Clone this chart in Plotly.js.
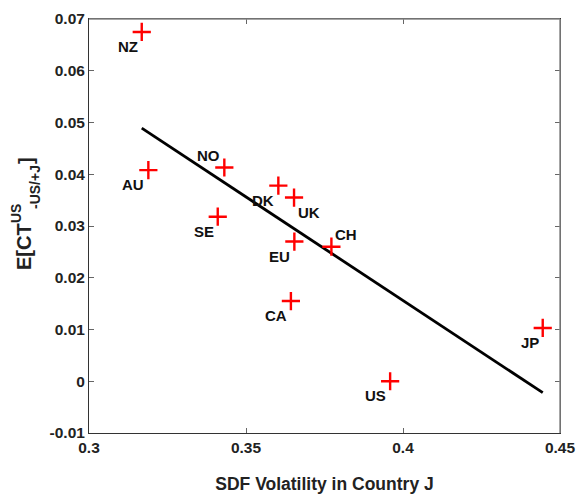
<!DOCTYPE html>
<html>
<head>
<meta charset="utf-8">
<script src="https://cdn.plot.ly/plotly-3.0.1.min.js"></script>
<style>
  html, body { margin: 0; padding: 0; background: #fff; }
  #chart { width: 577px; height: 494px; }
</style>
</head>
<body>
<div id="chart"></div>
<script>
// Country codes and their coordinates
const countries = ['NZ', 'AU', 'NO', 'SE', 'DK', 'UK', 'EU', 'CH', 'CA', 'US', 'JP'];
const sdfVolatility = [0.3168, 0.3189, 0.3431, 0.3410, 0.3603, 0.3653, 0.3654, 0.3772, 0.3643, 0.3959, 0.4445];
const ctPremium = [0.0675, 0.0408, 0.0413, 0.0318, 0.0378, 0.0355, 0.0270, 0.0260, 0.0155, 0.0000, 0.0103];
const labelPositions = ['bottom left', 'bottom left', 'top left', 'bottom left', 'bottom left',
  'bottom right', 'bottom left', 'top right', 'bottom left', 'bottom left', 'bottom left'];

// Fitted regression line endpoints
const fitX = [0.3168, 0.4445];
const fitY = [0.0489, -0.0022];

// Axis ticks
const xTicks = [0.3, 0.35, 0.4, 0.45];
const xTickText = ['0.3', '0.35', '0.4', '0.45'];
const yTicks = [-0.01, 0, 0.01, 0.02, 0.03, 0.04, 0.05, 0.06, 0.07];
const yTickText = ['-0.01', '0', '0.01', '0.02', '0.03', '0.04', '0.05', '0.06', '0.07'];

const FONT = 'Liberation Sans, Arial, sans-serif';
const INK = '#222';

const W = 577, H = 494;
const M = { l: 89, r: 17, t: 19, b: 61 };
const plotW = W - M.l - M.r, plotH = H - M.t - M.b;
const px = x => (x - M.l) / plotW;
const py = y => (H - M.b - y) / plotH;

const traces = [
  {
    x: fitX, y: fitY,
    mode: 'lines',
    line: { color: '#000', width: 2.8 },
    hoverinfo: 'skip',
    showlegend: false
  },
  {
    x: sdfVolatility, y: ctPremium,
    mode: 'markers',
    marker: { symbol: 'cross-thin', size: 13, line: { color: '#ff0000', width: 2.4 }, color: '#ff0000' },
    showlegend: false
  }
];

// Country codes sit just off one corner of their marker
const countryLabels = countries.map((c, i) => {
  const [v, h] = labelPositions[i].split(' ');
  return {
    xref: 'x', yref: 'y',
    x: sdfVolatility[i], y: ctPremium[i],
    text: c, showarrow: false,
    xanchor: h === 'left' ? 'right' : 'left',
    yanchor: v === 'bottom' ? 'top' : 'bottom',
    xshift: h === 'left' ? -2 : 2,
    yshift: v === 'bottom' ? -4 : 2,
    font: { family: FONT, size: 15, color: '#111', weight: 'bold' }
  };
});

// Pieces of the stacked y-axis title: E[CT with superscript US and subscript -US/+J
const ytitle = [
  { text: 'E[CT', cx: 24, cy: 247, size: 20 },
  { text: 'US', cx: 16, cy: 214, size: 14 },
  { text: '-US/+J', cx: 35, cy: 187, size: 14 },
  { text: ']', cx: 26, cy: 161, size: 20 }
];

const titleParts = ytitle.map(p => ({
  xref: 'paper', yref: 'paper',
  x: px(p.cx), y: py(p.cy),
  xanchor: 'center', yanchor: 'middle',
  text: p.text, textangle: -90, showarrow: false,
  font: { family: FONT, size: p.size, color: INK, weight: 'bold' }
}));

const layout = {
  width: W, height: H,
  margin: M,
  paper_bgcolor: '#fff', plot_bgcolor: '#fff',
  showlegend: false,
  xaxis: {
    range: [0.3, 0.45],
    tickvals: xTicks, ticktext: xTickText,
    ticks: 'inside', ticklen: 5, tickcolor: '#666', tickwidth: 1,
    showline: true, linecolor: '#333', linewidth: 1, mirror: 'ticks',
    showgrid: false, zeroline: false,
    tickfont: { family: FONT, size: 15.5, color: INK, weight: 'bold' },
    title: { text: 'SDF Volatility in Country J', font: { family: FONT, size: 17.5, color: INK, weight: 'bold' }, standoff: 26 }
  },
  yaxis: {
    range: [-0.01, 0.07],
    tickvals: yTicks, ticktext: yTickText,
    ticks: 'inside', ticklen: 5, tickcolor: '#666', tickwidth: 1,
    showline: true, linecolor: '#333', linewidth: 1, mirror: 'ticks',
    showgrid: false, zeroline: false,
    tickfont: { family: FONT, size: 15.5, color: INK, weight: 'bold' }
  },
  shapes: [
    { type: 'line', xref: 'paper', yref: 'paper', x0: 0, x1: 1, y0: 1, y1: 1, line: { color: '#888', width: 1.5 }, layer: 'above' },
    { type: 'line', xref: 'paper', yref: 'paper', x0: 1, x1: 1, y0: 0, y1: 1, line: { color: '#888', width: 1.5 }, layer: 'above' }
  ],
  annotations: countryLabels.concat(titleParts)
};

Plotly.newPlot('chart', traces, layout, { displayModeBar: false, staticPlot: true });
</script>
</body>
</html>
